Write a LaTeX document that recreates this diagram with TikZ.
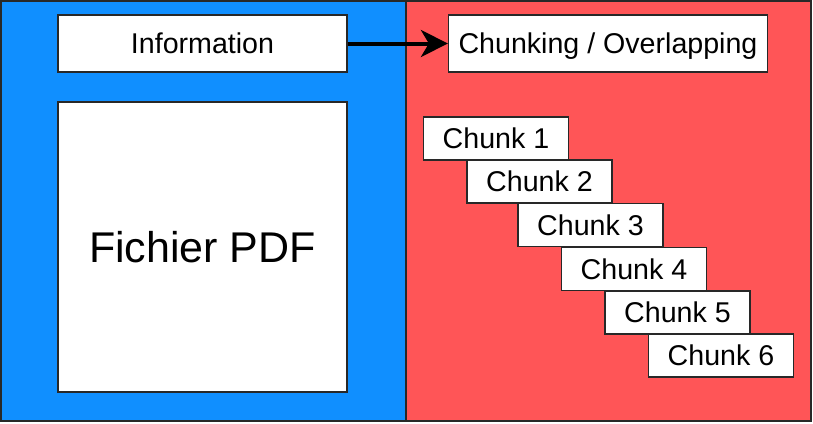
\documentclass[tikz,border=0pt]{standalone}
\usepackage{fontspec}
\setmainfont{Liberation Sans}
\usepackage{tikz}
\usetikzlibrary{arrows.meta}
\usepackage{xcolor}
\definecolor{panelblue}{RGB}{16,143,255}
\definecolor{panelred}{RGB}{255,85,87}
\definecolor{edgegray}{RGB}{40,40,40}

\begin{document}
\begin{tikzpicture}[x=0.5pt, y=-0.5pt,
    box/.style={draw=edgegray, line width=0.6pt, fill=white, inner sep=0pt,
        text height=13.1pt, text depth=2.86pt,
        font=\fontsize{14.3}{16}\selectfont},
    chunkbox/.style={box, minimum width=72.5pt, minimum height=21.5pt}]
    \useasboundingbox (0,0) rectangle (813,423);

    % les deux panneaux
    \draw[edgegray, line width=0.6pt, fill=panelblue] (1,1) rectangle (406,421);
    \draw[edgegray, line width=0.6pt, fill=panelred] (406,1) rectangle (811,421);

    % panneau gauche
    \node[box, minimum width=144.5pt, minimum height=28.5pt] (info) at (202.5,43.5) {Information};
    \node[box, minimum width=144.5pt, minimum height=145pt, text height=19.7pt, text depth=4.3pt,
        font=\fontsize{21.5}{24}\selectfont] (pdf) at (202.5,247) {Fichier PDF};

    % panneau droit
    \node[box, minimum width=159.5pt, minimum height=28.5pt] (chunking) at (608,43.5) {Chunking / Overlapping};
    \draw[-{Stealth[length=13.5pt, width=13.5pt, inset=4pt]}, line width=2pt] (info) -- (chunking);

    \node[chunkbox] (chunk1) at (496,138.5) {Chunk 1};
    \node[chunkbox] (chunk2) at (539.5,181.5) {Chunk 2};
    \node[chunkbox] (chunk3) at (590.5,225) {Chunk 3};
    \node[chunkbox] (chunk4) at (634,269) {Chunk 4};
    \node[chunkbox] (chunk5) at (677.5,312.5) {Chunk 5};
    \node[chunkbox] (chunk6) at (721,355.5) {Chunk 6};
\end{tikzpicture}
\end{document}
